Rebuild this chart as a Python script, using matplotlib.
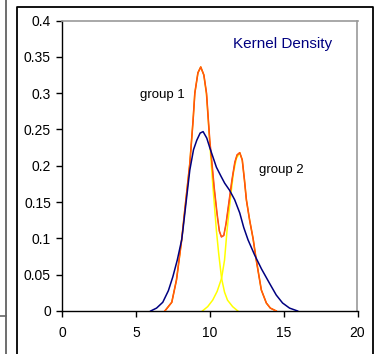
import matplotlib
matplotlib.use("Agg")
import matplotlib.pyplot as plt
from matplotlib.lines import Line2D

plt.rcParams['font.family'] = ['Liberation Sans', 'DejaVu Sans']

# Overall kernel density (blue)
kd_x = [6.0, 6.4, 6.82, 7.2, 7.5, 7.8, 8.1, 8.18, 8.4, 8.65, 8.9, 9.12, 9.35, 9.55, 9.8, 10.0,
        10.25, 10.45, 10.75, 11.01, 11.35, 11.69, 12.03, 12.3, 12.59, 13.04, 13.5, 14.05, 14.5,
        14.93, 15.4, 15.95]
kd_y = [0.0, 0.004, 0.012, 0.028, 0.047, 0.07, 0.098, 0.111, 0.15, 0.194, 0.222, 0.235, 0.245,
        0.247, 0.238, 0.225, 0.21, 0.198, 0.186, 0.176, 0.166, 0.153, 0.135, 0.115, 0.098, 0.077,
        0.058, 0.038, 0.022, 0.011, 0.004, 0.0]

# Mixture of the two groups (red / orange)
mix_x = [6.96, 7.43, 7.75, 8.1, 8.31, 8.65, 8.87, 8.99, 9.2, 9.39, 9.6, 9.78, 10.0, 10.11, 10.3,
         10.5, 10.65, 10.79, 10.95, 11.1, 11.3, 11.5, 11.7, 11.85, 12.03, 12.2, 12.35, 12.48,
         12.7, 12.93, 13.15, 13.49, 13.83, 14.1, 14.5]
mix_y = [0.0, 0.012, 0.043, 0.098, 0.139, 0.203, 0.262, 0.30, 0.328, 0.336, 0.325, 0.30, 0.235,
         0.212, 0.17, 0.133, 0.11, 0.102, 0.104, 0.12, 0.15, 0.18, 0.205, 0.215, 0.218, 0.208,
         0.18, 0.153, 0.125, 0.10, 0.07, 0.029, 0.011, 0.004, 0.0]

# Group 1 component (yellow)
g1_x = [6.96, 7.43, 7.75, 8.1, 8.31, 8.65, 8.87, 8.99, 9.2, 9.39, 9.6, 9.78, 10.0, 10.2, 10.45,
        10.6, 10.8, 11.0, 11.2, 11.55, 11.9]
g1_y = [0.0, 0.012, 0.043, 0.098, 0.139, 0.203, 0.262, 0.30, 0.328, 0.336, 0.325, 0.298, 0.232,
        0.175, 0.111, 0.08, 0.045, 0.026, 0.015, 0.006, 0.0]

# Group 2 component (yellow)
g2_x = [9.5, 9.86, 10.2, 10.5, 10.8, 11.0, 11.17, 11.4, 11.6, 11.8, 12.03, 12.2, 12.35, 12.48,
        12.7, 12.93, 13.15, 13.49, 13.83, 14.1, 14.5]
g2_y = [0.0, 0.006, 0.015, 0.027, 0.045, 0.07, 0.111, 0.155, 0.19, 0.21, 0.218, 0.208, 0.18,
        0.153, 0.125, 0.10, 0.07, 0.029, 0.011, 0.004, 0.0]

x_ticks = [0, 5, 10, 15, 20]
y_ticks = [0, 0.05, 0.1, 0.15, 0.2, 0.25, 0.3, 0.35, 0.4]
y_tick_labels = ['0', '0.05', '0.1', '0.15', '0.2', '0.25', '0.3', '0.35', '0.4']

W, H = 379, 354
fig = plt.figure(figsize=(W / 100, H / 100), dpi=100)
fig.patch.set_facecolor('white')

# surrounding frame lines (figure coords in pixels)
def px_line(xs, ys, **kw):
    fig.add_artist(Line2D([x / W for x in xs], [1 - y / H for y in ys],
                          transform=fig.transFigure, **kw))

px_line([5.5, 5.5], [0, 354], color='#555555', lw=1.2)
px_line([0, 5.5], [315.5, 315.5], color='#666666', lw=1.2)
px_line([16.7, 16.7, 373, 373], [354, 7, 7, 354], color='black', lw=1.3)

left, right, top, bottom = 62, 357.5, 20.5, 311
ax = fig.add_axes([left / W, 1 - bottom / H, (right - left) / W, (bottom - top) / H])

ax.plot(g1_x, g1_y, color='#FFFF00', lw=1.1, zorder=2)
ax.plot(g2_x, g2_y, color='#FFFF00', lw=1.1, zorder=2)
ax.plot(mix_x, mix_y, color='#FF2A00', lw=1.1, zorder=3)
ax.plot(mix_x, mix_y, color='#FF7A1A', lw=0.6, zorder=3, alpha=0.8)
ax.plot(kd_x, kd_y, color='#000080', lw=1.1, zorder=4)

ax.set_xlim(0, 20)
ax.set_ylim(0, 0.4)
ax.set_xticks(x_ticks)
ax.set_xticklabels([str(v) for v in x_ticks])
ax.set_yticks(y_ticks)
ax.set_yticklabels(y_tick_labels)

for s in ['left', 'bottom']:
    ax.spines[s].set_color('black')
    ax.spines[s].set_linewidth(1.0)
for s in ['top', 'right']:
    ax.spines[s].set_color('#999999')
    ax.spines[s].set_linewidth(1.2)

ax.tick_params(axis='both', direction='out', length=4, width=1, labelsize=10, colors='black')
ax.tick_params(axis='x', pad=7)
ax.tick_params(axis='y', pad=4)

ax.text(14.9, 0.367, 'Kernel Density', color='#000080', fontsize=11, ha='center', va='center')
ax.text(5.3, 0.298, 'group 1', color='black', fontsize=9.5, ha='left', va='center')
ax.text(13.3, 0.194, 'group 2', color='black', fontsize=9.5, ha='left', va='center')

fig.savefig('out.png', dpi=100, facecolor='white')
